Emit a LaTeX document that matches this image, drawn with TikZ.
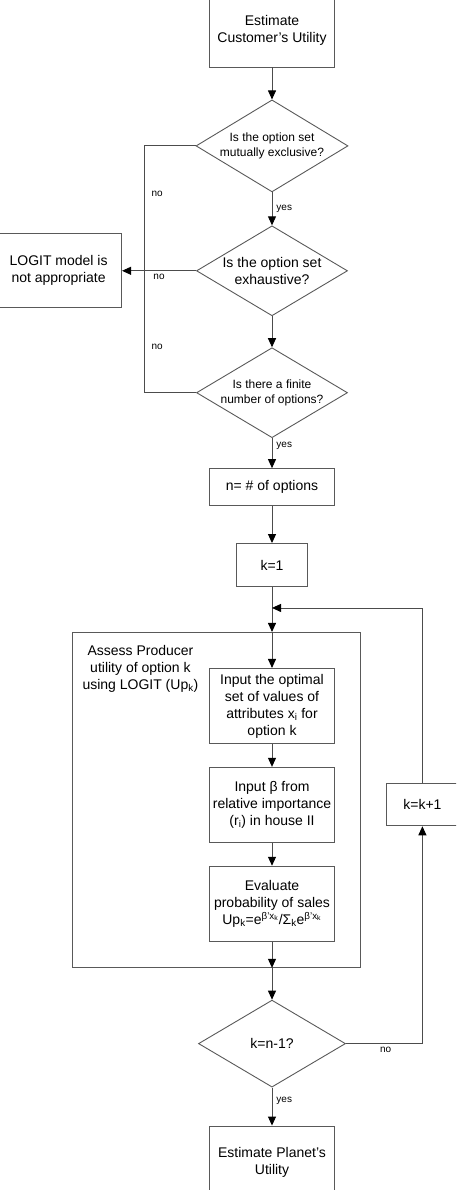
\documentclass[tikz,border=0pt]{standalone}
\usepackage{fontspec}
\setmainfont{Liberation Sans}
\usepackage{tikz}
\usetikzlibrary{arrows.meta, positioning, shapes.geometric}
\tikzset{
    bigtext/.style = {font=\fontsize{14}{17}\selectfont},
    smalltext/.style = {font=\fontsize{12}{15}\selectfont},
    procbox/.style = {draw=black!65, line width=0.9pt, inner sep=2pt,
        align=center, bigtext},
    decision/.style = {diamond, draw=black!65, line width=0.9pt,
        inner sep=0pt, aspect=1.65, align=center},
    groupbox/.style = {draw=black!65, line width=0.9pt, inner sep=0pt},
    grouplabel/.style = {inner sep=2pt, align=center, bigtext},
    answer/.style = {font=\fontsize{10}{12}\selectfont, inner sep=1pt},
}

\begin{document}
\begin{tikzpicture}[->, >={Triangle[length=9pt,width=8pt,color=black]},
    line width=0.9pt, draw=black!70]
        \useasboundingbox (0,0) rectangle (456pt,-1190pt);
        \clip (0,0) rectangle (456pt,-1190pt);
        \node (cust) [procbox, minimum width=125pt, minimum height=73pt] at (272pt,-30.5pt) {Estimate\\Customer’s Utility};
        \node (excl) [decision, smalltext, minimum width=152pt, minimum height=92pt, below=32pt of cust] {Is the option set\\mutually exclusive?};
        \node (exh) [decision, bigtext, minimum width=151pt, minimum height=90pt, below=33pt of excl] {Is the option set\\exhaustive?};
        \node (fin) [decision, smalltext, minimum width=151pt, minimum height=90pt, below=31pt of exh] {Is there a finite\\number of options?};
        \node (logit) [procbox, minimum width=126pt, minimum height=74pt, left=74pt of exh] {LOGIT model is\\not appropriate};
        \coordinate [left=52pt of exh.west] (jn);
        \node (nopt) [procbox, minimum width=125pt, minimum height=37pt, below=30pt of fin] {n= \# of options};
        \node (kone) [procbox, minimum width=71pt, minimum height=43pt, below=37pt of nopt] {k=1};
        \coordinate [below=21pt of kone] (merge);
        \node (attr) [procbox, minimum width=125pt, minimum height=75pt, below=81pt of kone] {Input the optimal\\set of values of\\attributes x\textsubscript{i} for\\option k};
        \node (beta) [procbox, minimum width=125pt, minimum height=75pt, below=23pt of attr] {Input β from\\relative importance\\(r\textsubscript{i}) in house II};
        \node (prob) [procbox, minimum width=125pt, minimum height=75pt, below=23pt of beta] {Evaluate\\probability of sales\\Up\textsubscript{k}=e\textsuperscript{β’x\textsubscript{k}}/Σ\textsubscript{k}e\textsuperscript{β’x\textsubscript{k}}};
        \node (assess) [groupbox, minimum width=288pt, minimum height=335pt, below=45pt of kone, xshift=-55.5pt] {};
        \node (assesstext) [grouplabel, below right=11pt and 8pt of assess.north west] {Assess Producer\\utility of option k\\using LOGIT (Up\textsubscript{k})};
        \node (last) [decision, bigtext, minimum width=147pt, minimum height=87pt, below=58pt of prob] {k=n-1?};
        \node (planet) [procbox, minimum width=125pt, minimum height=72pt, below=38pt of last] {Estimate Planet’s\\Utility};
        \node (incr) [procbox, minimum width=72pt, minimum height=42pt, right=51pt of beta] {k=k+1};

        \draw (cust) -- (excl);
        \draw (excl) -- node[answer, right=3pt, pos=0.5] {yes} (exh);
        \draw [-] (excl.west) -| node[answer, pos=0.69, right=6pt] {no} (jn);
        \draw [-] (fin.west) -| node[answer, pos=0.69, right=6pt] {no} (jn);
        \draw (exh.west) -- node[answer, below=2pt] {no} (logit.east);
        \draw (exh) -- (fin);
        \draw (fin) -- node[answer, right=3pt, pos=0.27] {yes} (nopt);
        \draw (nopt) -- (kone);
        \draw (kone) -- (kone |- assess.north);
        \draw (kone |- assess.north) -- (attr);
        \draw (attr) -- (beta);
        \draw (beta) -- (prob);
        \draw (prob) -- (prob |- assess.south);
        \draw (prob |- assess.south) -- (last);
        \draw (last) -- node[answer, right=3pt, pos=0.34] {yes} (planet);
        \draw (last.east) -| node[answer, pos=0.26, below=2pt] {no} (incr.south);
        \draw (incr.north) |- (merge);
\end{tikzpicture}
\end{document}
